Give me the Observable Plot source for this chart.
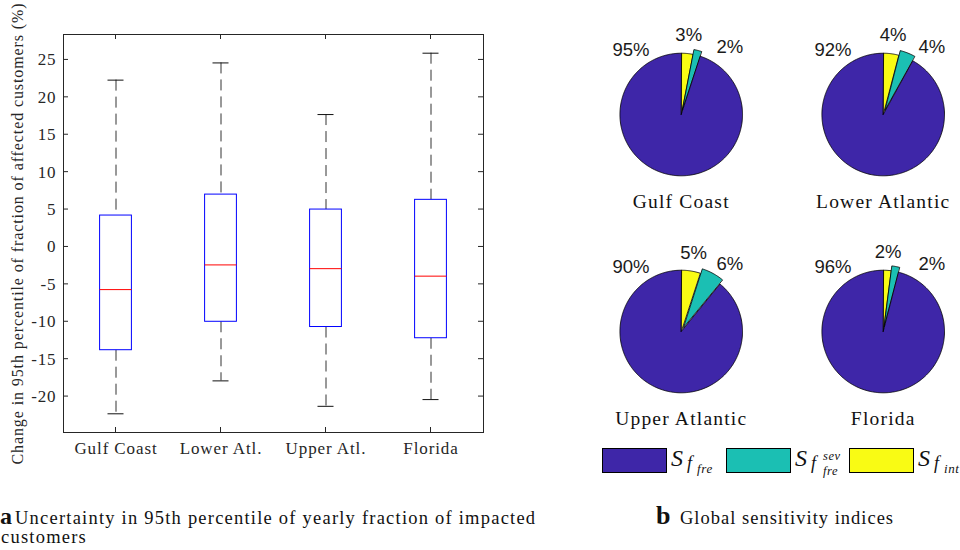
<!DOCTYPE html>
<html><head><meta charset="utf-8">
<script src="https://cdn.jsdelivr.net/npm/d3@7"></script>
<script src="https://cdn.jsdelivr.net/npm/@observablehq/plot@0.6"></script>
<style>
body{margin:0;background:#fff;}
#wrap{position:relative;width:960px;height:550px;overflow:hidden;background:#fff;}
#left{position:absolute;left:0;top:0;}
#right{position:absolute;left:590px;top:0;}
#overlay{position:absolute;left:0;top:0;}
</style>
</head><body>
<div id="wrap"><div id="left"></div><div id="right"></div><svg id="overlay" width="960" height="550"></svg></div>
<script>
// ---- Panel a: box plot data ----
const regions = ["Gulf Coast", "Lower Atl.", "Upper Atl.", "Florida"];
const whiskerHigh = [22.3, 24.6, 17.7, 25.9];
const upperQuartile = [4.2, 7.0, 5.0, 6.3];
const median = [-5.7, -2.4, -2.9, -3.9];
const lowerQuartile = [-13.8, -10.0, -10.7, -12.2];
const whiskerLow = [-22.3, -17.9, -21.3, -20.4];
const yTicks = [-20, -15, -10, -5, 0, 5, 10, 15, 20, 25];
const yLabel = "Change in 95th percentile of fraction of affected customers (%)";

// ---- Panel b: pie data (global sensitivity indices, %) ----
const pieTitles = ["Gulf Coast", "Lower Atlantic", "Upper Atlantic", "Florida"];
const sFre = [95, 92, 90, 96];
const sSev = [2, 4, 6, 2];
const sInt = [3, 4, 5, 2];
const sliceKeys = ["fre", "sev", "int"];
const sliceColors = ["#3e26a8", "#1bbfb3", "#f9fb14"];

const captionA = "Uncertainty in 95th percentile of yearly fraction of impacted";
const captionA2 = "customers";
const captionB = "Global sensitivity indices";

const SERIF = "'Liberation Serif', 'Times New Roman', Tinos, 'DejaVu Serif', serif";
const SANS = "'Liberation Sans', Arial, Helvetica, sans-serif";

// ---------- Left plot ----------
const boxData = regions.map((r, i) => ({region: r, lo: whiskerLow[i], q1: lowerQuartile[i], med: median[i], q3: upperQuartile[i], hi: whiskerHigh[i]}));

const innerTicks = (index, scales, values, dims) => {
  const g = d3.create("svg:g").attr("stroke", "#262626").attr("stroke-width", 1);
  const x0 = dims.marginLeft, x1 = dims.width - dims.marginRight;
  const y0 = dims.marginTop, y1 = dims.height - dims.marginBottom;
  const L = 5;
  for (const v of yTicks) {
    const y = scales.y(v);
    g.append("line").attr("x1", x0).attr("x2", x0 + L).attr("y1", y).attr("y2", y);
    g.append("line").attr("x1", x1).attr("x2", x1 - L).attr("y1", y).attr("y2", y);
  }
  const bw = scales.x.bandwidth ? scales.x.bandwidth() : 0;
  for (const c of regions) {
    const x = scales.x(c) + bw / 2;
    g.append("line").attr("x1", x).attr("x2", x).attr("y1", y0).attr("y2", y0 + L);
    g.append("line").attr("x1", x).attr("x2", x).attr("y1", y1).attr("y2", y1 - L);
  }
  return g.node();
};

const left = Plot.plot({
  width: 490, height: 470,
  marginLeft: 63, marginRight: 7, marginTop: 34, marginBottom: 38,
  style: {fontFamily: SERIF, fontSize: "17px", color: "#262626", background: "transparent", overflow: "visible"},
  x: {domain: regions, padding: 0, tickSize: 0, tickPadding: 9, label: null},
  y: {domain: [-24.8, 28.4], ticks: yTicks, tickSize: 0, tickPadding: 7, tickFormat: d => String(d), label: null},
  marks: [
    Plot.ruleX(boxData, {x: "region", y1: "hi", y2: "q3", stroke: "#333", strokeDasharray: "11,6"}),
    Plot.ruleX(boxData, {x: "region", y1: "q1", y2: "lo", stroke: "#333", strokeDasharray: "11,6"}),
    Plot.tickY(boxData, {x: "region", y: "hi", stroke: "#111", insetLeft: 44.5, insetRight: 44.5}),
    Plot.tickY(boxData, {x: "region", y: "lo", stroke: "#111", insetLeft: 44.5, insetRight: 44.5}),
    Plot.barY(boxData, {x: "region", y1: "q1", y2: "q3", fill: "white", stroke: "#0000ff", insetLeft: 36.6, insetRight: 36.6}),
    Plot.tickY(boxData, {x: "region", y: "med", stroke: "#ff0000", insetLeft: 36.6, insetRight: 36.6}),
    Plot.frame({stroke: "#262626"}),
    innerTicks,
    Plot.text([yLabel], {text: d => d, frameAnchor: "left", dx: -46, rotate: -90, textAnchor: "middle", lineAnchor: "middle", fontSize: 16, fontFamily: SERIF, fill: "#262626"})
  ]
});
left.setAttribute("font-family", SERIF);
left.setAttribute("letter-spacing", "0.9px");
document.getElementById("left").appendChild(left);

// ---------- Right plot (pies) ----------
const colStep = 3.295, rowStep = 3.54, explode = 0.08;
const slicePts = [], pieLabels = [], titleData = [];
pieTitles.forEach((name, i) => {
  const cx = (i % 2) * colStep, cy = -Math.floor(i / 2) * rowStep;
  const parts = [
    {key: "int", v: sInt[i]},
    {key: "sev", v: sSev[i]},
    {key: "fre", v: sFre[i]}
  ];
  const total = d3.sum(parts, p => p.v);
  let a = 0;
  parts.forEach(p => {
    const a0 = a, a1 = a + p.v / total * 2 * Math.PI; a = a1;
    const mid = (a0 + a1) / 2;
    const off = p.key === "sev" ? explode : 0;
    const ox = cx + off * Math.sin(mid), oy = cy + off * Math.cos(mid);
    const id = name + "-" + p.key;
    slicePts.push({x: ox, y: oy, id, key: p.key});
    const n = Math.max(2, Math.ceil((a1 - a0) / (Math.PI / 180)));
    for (let k = 0; k <= n; k++) {
      const t = a0 + (a1 - a0) * k / n;
      slicePts.push({x: ox + Math.sin(t), y: oy + Math.cos(t), id, key: p.key});
    }
    let la, lr;
    if (p.key === "int") { la = mid; lr = 1.3; }
    else if (p.key === "sev") { la = 36 * Math.PI / 180; lr = 1.35; }
    else { la = -38 * Math.PI / 180; lr = 1.33; }
    pieLabels.push({x: cx + lr * Math.sin(la), y: cy + lr * Math.cos(la), text: p.v + "%"});
  });
  titleData.push({x: cx, y: cy - 1.42, text: name});
});

const right = Plot.plot({
  width: 370, height: 440,
  margin: 0,
  style: {background: "transparent", overflow: "visible"},
  x: {domain: [-1.48, 4.556], axis: null},
  y: {domain: [-5.318, 1.86], axis: null},
  color: {domain: sliceKeys, range: sliceColors},
  marks: [
    Plot.line(slicePts, {x: "x", y: "y", z: "id", fill: "key", stroke: "#000", strokeWidth: 0.8, curve: "linear-closed"}),
    Plot.text(pieLabels, {x: "x", y: "y", text: "text", fontFamily: SANS, fontSize: 18.5, fill: "#1a1a1a"}),
    Plot.text(titleData, {x: "x", y: "y", text: "text", fontFamily: SERIF, fontSize: 19.5, fill: "#111"})
  ]
});
right.querySelectorAll("g").forEach(g => {
  if ((g.getAttribute("font-family") || "").includes("Serif")) g.setAttribute("letter-spacing", "1.2px");
});
document.getElementById("right").appendChild(right);

// ---------- Legend & captions ----------
const ov = d3.select("#overlay");
const legX = [602, 726, 849];
sliceKeys.forEach((k, i) => {
  ov.append("rect").attr("x", legX[i] + 0.5).attr("y", 448.5).attr("width", 64).attr("height", 24)
    .attr("fill", sliceColors[i]).attr("stroke", "#000").attr("stroke-width", 1);
  const tx = legX[i] + 69;
  const t = ov.append("g").attr("font-family", SERIF).attr("font-style", "italic").attr("fill", "#111");
  t.append("text").attr("x", tx).attr("y", 466).attr("font-size", 24).text("S");
  t.append("text").attr("x", tx + 16).attr("y", 469).attr("font-size", 18).text("f");
  if (k === "fre") {
    t.append("text").attr("x", tx + 26).attr("y", 473).attr("font-size", 13).attr("letter-spacing", "0.6px").text("fre");
  } else if (k === "sev") {
    t.append("text").attr("x", tx + 28).attr("y", 460).attr("font-size", 12.5).attr("letter-spacing", "0.6px").text("sev");
    t.append("text").attr("x", tx + 28).attr("y", 475).attr("font-size", 12.5).attr("letter-spacing", "0.6px").text("fre");
  } else {
    t.append("text").attr("x", tx + 26).attr("y", 473).attr("font-size", 13).attr("letter-spacing", "0.6px").text("int");
  }
});
const cap = ov.append("g").attr("font-family", SERIF).attr("fill", "#111");
cap.append("text").attr("x", 0).attr("y", 524).attr("font-size", 24).attr("font-weight", "bold").text("a");
cap.append("text").attr("x", 15).attr("y", 524).attr("font-size", 18.5).attr("letter-spacing", "1.22px").text(captionA);
cap.append("text").attr("x", 1).attr("y", 543).attr("font-size", 18.5).attr("letter-spacing", "1.22px").text(captionA2);
cap.append("text").attr("x", 656).attr("y", 524).attr("font-size", 26).attr("font-weight", "bold").text("b");
cap.append("text").attr("x", 680).attr("y", 524).attr("font-size", 18.5).attr("letter-spacing", "1px").text(captionB);
</script>
</body></html>
